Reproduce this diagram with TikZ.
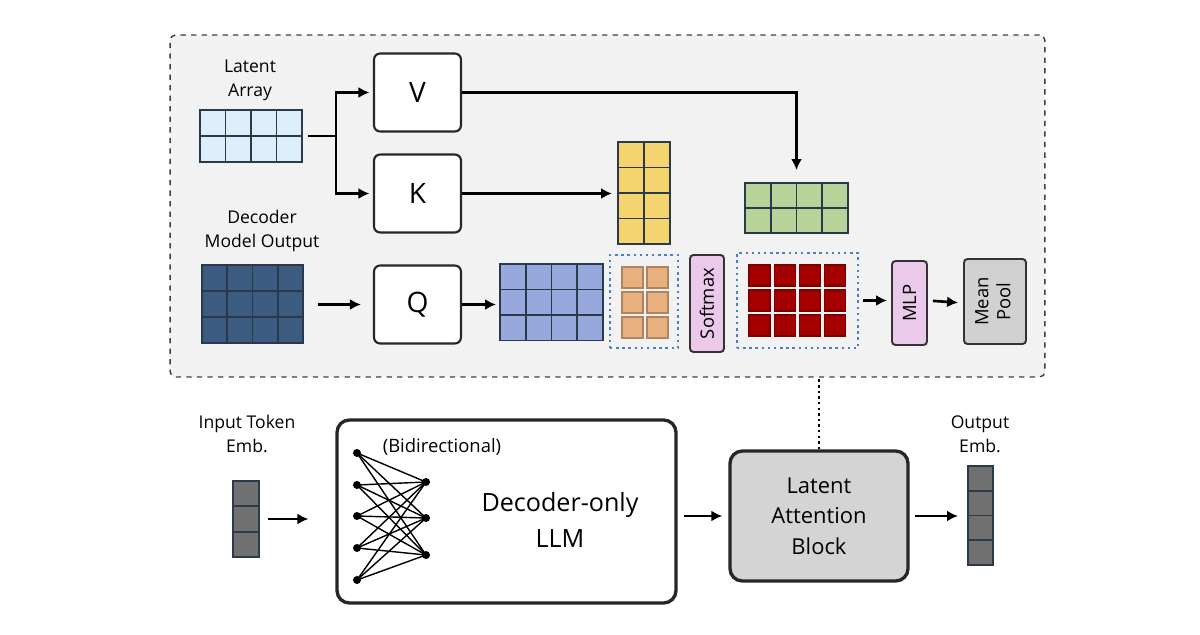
\documentclass[tikz,border=0pt]{standalone}
\usepackage{fontspec}
\setmainfont{Open Sans}
\usepackage{tikz}
\usetikzlibrary{arrows.meta, positioning, backgrounds, calc}

\definecolor{latblue}{HTML}{DCEEF9}
\definecolor{decblue}{HTML}{3B5C80}
\definecolor{qblue}{HTML}{97A9DC}
\definecolor{kyellow}{HTML}{F6D570}
\definecolor{vgreen}{HTML}{B6D49A}
\definecolor{scorange}{HTML}{E9B07F}
\definecolor{outred}{HTML}{A50000}
\definecolor{opink}{HTML}{EAC9EA}
\definecolor{dotblue}{HTML}{4A7FC8}
\definecolor{embgray}{HTML}{707070}
\definecolor{gridc}{HTML}{2A3A4A}

% cell grid: name, top-left x, y (px), cols, rows, cell w, cell h, fill
\newcommand{\cellgrid}[8]{%
  \node[gridbox, fill=#8, minimum width=#4*#6*0.02cm, minimum height=#5*#7*0.02cm]
    (#1) at (#2,#3) {};
  \foreach \c in {1,...,#4} \draw[gridline] (#2+\c*#6,#3) -- ++(0,#5*#7);
  \foreach \r in {1,...,#5} \draw[gridline] (#2,#3+\r*#7) -- ++(#4*#6,0);
}

\begin{document}
\begin{tikzpicture}[
      x=0.02cm, y=-0.02cm,
      lbl/.style={align=center, font=\fontsize{10}{13.5}\selectfont},
      panel/.style={draw=black!75, dashed, line width=0.8pt, rounded corners=3pt,
                    fill=black!5},
      proj/.style={draw=black!85, line width=1.2pt, rounded corners=3.5pt, fill=white,
                   minimum width=1.74cm, minimum height=1.56cm,
                   font=\fontsize{16}{18}\selectfont},
      gridbox/.style={draw=gridc, line width=1.1pt, inner sep=0pt, outer sep=0pt,
                      anchor=north west},
      gridline/.style={draw=gridc, line width=1.1pt},
      attn/.style={draw=dotblue, line width=1.4pt, dash pattern=on 1.4pt off 2.1pt,
                   inner sep=0pt},
      op/.style={draw=black!80, line width=1.1pt, rounded corners=2pt, fill=opink,
                 inner sep=0pt, font=\fontsize{10.5}{12}\selectfont},
      bigbox/.style={draw=black!85, line width=1.9pt, rounded corners=7pt},
      neuron/.style={circle, fill=black, inner sep=0pt, minimum size=0.16cm},
      a/.style={-{Latex[length=2.2mm,width=2.2mm]}, line width=1.5pt},
    ]
    \useasboundingbox (0,0) rectangle (1200,635);

    % ---- latent attention panel ----
    \node[panel, minimum width=17.5cm, minimum height=6.84cm] (panel) at (607.5,206) {};

    \node[lbl] (latlbl) at (250,80) {Latent\\Array};
    \cellgrid{lat}{200}{110}{4}{2}{25.5}{26}{latblue}
    \node[lbl] (declbl) at (262,231) {Decoder\\Model Output};
    \cellgrid{dec}{202}{265}{4}{3}{25.25}{26}{decblue}

    \node[proj] (V) at (417.5,92.5) {V};
    \node[proj] (K) at (417.5,193.5) {K};
    \node[proj] (Q) at (417.5,304.5) {Q};

    \cellgrid{qg}{500}{264}{4}{3}{25.75}{25.5}{qblue}
    \cellgrid{kg}{618}{142}{2}{4}{26}{25.5}{kyellow}
    \cellgrid{vg}{745}{183}{4}{2}{25.75}{25}{vgreen}

    % attention scores and weighted output
    \node[attn, minimum width=1.36cm, minimum height=1.86cm] (sbox) at (644,301.5) {};
    \foreach \c in {0,1} \foreach \r in {0,1,2}
      \draw[draw=scorange!75!black, line width=0.6pt, fill=scorange]
        (622+\c*25,267+\r*25) rectangle ++(21,21);
    \node[op, minimum width=0.68cm, minimum height=1.94cm] (soft) at (707,303.5)
      {\rotatebox{90}{Softmax}};
    \node[attn, minimum width=2.42cm, minimum height=1.9cm] (obox) at (797.5,300.5) {};
    \foreach \c in {0,...,3} \foreach \r in {0,1,2}
      \draw[draw=outred!75!black, line width=0.6pt, fill=outred]
        (749+\c*25.25,265+\r*25) rectangle ++(21,21);

    \node[op, minimum width=0.7cm, minimum height=1.68cm] (mlp) at (909.5,303)
      {\rotatebox{90}{MLP}};
    \node[op, fill=black!18, minimum width=1.24cm, minimum height=1.7cm,
          font=\fontsize{10.5}{12.5}\selectfont] (pool) at (995,301.5)
      {\rotatebox{90}{\begin{tabular}{@{}c@{}}Mean\\Pool\end{tabular}}};

    % ---- arrows in the panel ----
    \coordinate (split) at (336,136);
    \draw[line width=1.5pt] (lat.east |- split) ++(6,0) -- (split);
    \draw[a, shorten >=2pt] (split) |- (V);
    \draw[a, shorten >=2pt] (split) |- (K);
    \draw[a, shorten >=0.26cm] (V) -| (vg);
    \draw[a, shorten >=0.12cm] (K) -- (K -| kg.west);
    \draw[a, shorten <=0.3cm, shorten >=0.24cm] (dec.east |- Q) -- (Q);
    \draw[a, shorten >=0.08cm] (Q) -- (Q -| qg.west);
    \draw[a, shorten <=0.08cm, shorten >=0.08cm] (obox.east) -- (obox.east -| mlp.west);
    \draw[a, shorten <=0.1cm, shorten >=0.1cm] (mlp.east |- obox.east) -- (mlp.east -| pool.west);

    % ---- lower row ----
    \node[lbl] (inlbl) at (247,434) {Input Token\\Emb.};
    \cellgrid{inemb}{233}{481}{1}{3}{26}{25.33}{embgray}

    \node[bigbox, fill=white, minimum width=6.78cm, minimum height=3.66cm] (llm)
      at (506.5,511.5) {};
    \node[font=\fontsize{10.5}{12}\selectfont] (bidir) at (442,447) {(Bidirectional)};
    \node[align=center, font=\fontsize{14.3}{20.5}\selectfont] (llmtxt) at (560,520)
      {Decoder-only\\LLM};
    \foreach \i/\y in {1/453,2/485,3/516,4/548,5/580} \node[neuron] (n\i) at (357,\y) {};
    \foreach \j/\y in {1/482,2/518,3/555} \node[neuron] (m\j) at (426,\y) {};
    \foreach \i in {1,...,5} \foreach \j in {1,2,3}
      \draw[line width=0.8pt] (n\i.center) -- (m\j.center);

    \node[bigbox, fill=black!17, minimum width=3.56cm, minimum height=2.6cm,
          align=center, font=\fontsize{12.5}{17.3}\selectfont] (lab) at (819,516)
      {Latent\\Attention\\Block};

    \node[lbl] (outlbl) at (980,434) {Output\\Emb.};
    \cellgrid{outemb}{968}{466}{1}{4}{25}{24.75}{embgray}

    \draw[a, shorten <=0.18cm, shorten >=0.54cm] (inemb) -- (inemb -| llm.west);
    \draw[a, shorten <=0.12cm, shorten >=0.12cm] (llm.east |- lab) -- (lab);
    \draw[a, shorten <=0.1cm, shorten >=0.2cm] (lab) -- (lab -| outemb.west);

    % panel is the expanded view of the latent attention block
    \draw[line width=1.4pt, dash pattern=on 1.4pt off 1.8pt] (lab.north) -- (lab.north |- panel.south);
  \end{tikzpicture}
\end{document}
